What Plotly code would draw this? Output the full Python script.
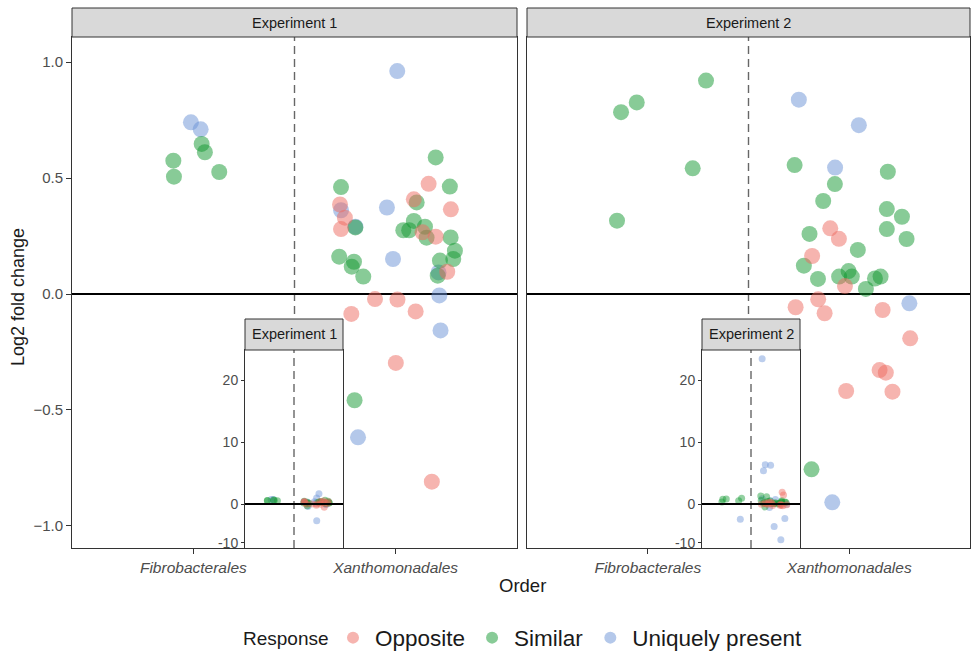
import plotly.graph_objects as go

# ---- data -------------------------------------------------------------
categories = ["Fibrobacterales", "Xanthomonadales"]
responses = ["Opposite", "Similar", "Uniquely present"]
experiments = ["Experiment 1", "Experiment 2"]
O, S, U = responses

# Experiment 1: order index (1/2), response, horizontal jitter, log2 fold change
exp1_order = [1] * 7 + [2] * 47
exp1_response = [U, U, S, S, S, S, S,
                 U, S, O, U, O, O, S, U, U, O, S, O, S, S, O, S, S, S, S, O,
                 S, O, S, S, S, S, U, S, S, S, U, S, O, S, U, O, O, O, O, U,
                 O, S, U, O, U, U]
exp1_jitter = [-0.012, 0.036, 0.041, 0.057, -0.099, -0.096, 0.128,
               0.008, -0.270, -0.275, -0.270, -0.251, -0.270, -0.199, -0.199, -0.043, 0.090,
               0.104, 0.163, 0.198, 0.268, 0.273, 0.038, 0.067, 0.090, 0.145, 0.133,
               0.153, 0.198, 0.272, 0.293, 0.285, 0.219, -0.013, -0.279, -0.206, -0.217,
               0.212, -0.160, 0.255, 0.208, 0.216, -0.102, 0.009, -0.219, 0.099, 0.222,
               0.001, -0.203, -0.186, 0.179, 0.06, 0.01]
exp1_lfc = [0.740, 0.710, 0.647, 0.611, 0.575, 0.506, 0.526,
            0.961, 0.461, 0.386, 0.361, 0.329, 0.280, 0.287, 0.290, 0.373, 0.408,
            0.395, 0.475, 0.589, 0.463, 0.365, 0.275, 0.275, 0.315, 0.290, 0.266,
            0.243, 0.247, 0.244, 0.187, 0.151, 0.144, 0.151, 0.161, 0.139, 0.118,
            0.093, 0.075, 0.096, 0.079, -0.006, -0.022, -0.024, -0.086, -0.075, -0.157,
            -0.297, -0.458, -0.618, -0.809, 1.67, -4.3]

# Experiment 2
exp2_order = [1] * 6 + [2] * 48
exp2_response = [S, S, S, S, S, U,
                 U, U, S, U, S, S, S, S, S, S, S, O, O, S, S, O, S, S, S, S,
                 S, O, S, S, S, O, U, O, O, O, O, O, O, O, O, S, U,
                 U, U, U, U, U, U, U, O, O, S, S]
exp2_jitter = [0.289, -0.055, -0.133, 0.223, -0.153, 0.26,
               -0.250, 0.048, -0.271, -0.070, 0.192, -0.071, -0.129, 0.187, 0.262, 0.187,
               0.285, -0.094, -0.051, -0.197, 0.043, -0.184, -0.225, -0.155, -0.050, -0.003,
               0.013, -0.021, 0.083, 0.128, 0.156, -0.154, 0.299, -0.266, -0.122, 0.166,
               0.303, 0.151, 0.182, -0.015, 0.215, -0.187, -0.084,
               -0.25, -0.18, -0.06, -0.22, 0.02, 0.26, 0.17, 0.20, 0.23, -0.28, -0.15]
exp2_lfc = [0.920, 0.826, 0.784, 0.542, 0.316, -3.9,
            0.838, 0.728, 0.556, 0.545, 0.527, 0.474, 0.401, 0.366, 0.333, 0.280,
            0.237, 0.283, 0.238, 0.259, 0.190, 0.164, 0.122, 0.065, 0.075, 0.099,
            0.075, 0.034, 0.022, 0.067, 0.075, -0.023, -0.040, -0.057, -0.083, -0.069,
            -0.191, -0.328, -0.339, -0.418, -0.421, -0.756, -0.898,
            23.5, 6.36, 6.26, 5.39, -5.8, -3.7, -9.2, 1.9, 1.45, 1.3, 1.18]

main_ticks = [-1.0, -0.5, 0.0, 0.5, 1.0]
inset_ticks = [-10, 0, 10, 20]

# ---- styling ----------------------------------------------------------
W, H = 972, 653
FONT = "Liberation Sans, Arial, sans-serif"
colors = {O: "rgb(238,106,96)", S: "rgb(18,152,48)", U: "rgb(106,146,214)"}
draw_order = [U, S, O]
NEG_SQUEEZE = 0.629  # negative side of the inset axis is compressed


def inset_scale(v):
    return v if v >= 0 else v * NEG_SQUEEZE


def px_x(p):
    return p / W


def px_y(p):
    return 1 - p / H


main_dom_y = [px_y(548), px_y(37)]
inset_dom_y = [px_y(548), px_y(350)]
panels = [
    dict(main_x=[px_x(72), px_x(517)], inset_x=[px_x(245), px_x(343)],
         order=exp1_order, resp=exp1_response, jit=exp1_jitter, lfc=exp1_lfc),
    dict(main_x=[px_x(527), px_x(970)], inset_x=[px_x(702), px_x(800)],
         order=exp2_order, resp=exp2_response, jit=exp2_jitter, lfc=exp2_lfc),
]

fig = go.Figure()
layout_axes = {}
shapes = []
annotations = []
DASH = "8px,5px"

for i, (exp, pn) in enumerate(zip(experiments, panels)):
    mx, my = f"x{2 * i + 1}", f"y{2 * i + 1}"
    ix, iy = f"x{2 * i + 2}", f"y{2 * i + 2}"
    mxa = "xaxis" if i == 0 else f"xaxis{2 * i + 1}"
    mya = "yaxis" if i == 0 else f"yaxis{2 * i + 1}"
    ixa, iya = f"xaxis{2 * i + 2}", f"yaxis{2 * i + 2}"
    mxr = "x" if i == 0 else mx
    myr = "y" if i == 0 else my

    for r in draw_order:
        idx = [k for k, rr in enumerate(pn["resp"]) if rr == r]
        xs = [pn["order"][k] + pn["jit"][k] for k in idx]
        ys = [pn["lfc"][k] for k in idx]
        fig.add_trace(go.Scatter(
            x=xs, y=ys, xaxis=mxr, yaxis=myr, mode="markers", name=r,
            legendgroup=r, showlegend=(i == 0),
            legendrank={O: 1, S: 2, U: 3}[r],
            marker=dict(size=16, color=colors[r], opacity=0.5, line=dict(width=0)),
            cliponaxis=True, hoverinfo="skip"))
        fig.add_trace(go.Scatter(
            x=xs, y=[inset_scale(v) for v in ys], xaxis=ix, yaxis=iy,
            mode="markers", name=r, legendgroup=r, showlegend=False,
            marker=dict(size=7, color=colors[r], opacity=0.45, line=dict(width=0)),
            hoverinfo="skip"))

    # main panel axes
    layout_axes[mxa] = dict(
        domain=pn["main_x"], range=[0.4, 2.6], tickvals=[1, 2],
        ticktext=[f"<i>{c}</i>" for c in categories], ticks="outside", ticklen=5,
        tickcolor="#333333", tickfont=dict(size=15.5, color="#4d4d4d", family=FONT),
        showline=True, linecolor="#333333", linewidth=1, mirror=True,
        showgrid=False, zeroline=False, anchor=myr, fixedrange=True)
    layout_axes[mya] = dict(
        domain=main_dom_y, range=[-1.095, 1.108], tickvals=main_ticks,
        tickformat=".1f", ticks="outside" if i == 0 else "", ticklen=5,
        showticklabels=(i == 0), tickcolor="#333333",
        tickfont=dict(size=15, color="#4d4d4d", family=FONT),
        showline=True, linecolor="#333333", linewidth=1, mirror=True,
        showgrid=False, zeroline=False, anchor=mxr, fixedrange=True)
    # inset axes
    layout_axes[ixa] = dict(
        domain=pn["inset_x"], range=[0.4, 2.6], showticklabels=False, ticks="",
        showline=True, linecolor="#333333", linewidth=1, mirror=True,
        showgrid=False, zeroline=False, anchor=iy, fixedrange=True)
    layout_axes[iya] = dict(
        domain=inset_dom_y, range=[-7.12, 24.92],
        tickvals=[inset_scale(t) for t in inset_ticks],
        ticktext=[str(t) for t in inset_ticks], ticks="outside", ticklen=3,
        tickcolor="#333333", tickfont=dict(size=14, color="#4d4d4d", family=FONT),
        showline=True, linecolor="#333333", linewidth=1, mirror=True,
        showgrid=False, zeroline=False, anchor=ix, fixedrange=True)

    # white backing for inset
    shapes.append(dict(type="rect", xref="paper", yref="paper",
                       x0=pn["inset_x"][0], x1=pn["inset_x"][1],
                       y0=inset_dom_y[0], y1=inset_dom_y[1],
                       fillcolor="white", line=dict(width=0), layer="below"))
    # reference lines: zero line and category divider
    shapes.append(dict(type="line", xref=mxr, yref=f"{myr} domain", x0=1.5, x1=1.5, y0=0, y1=1,
                       line=dict(color="#666666", width=1.4, dash=DASH), layer="below"))
    shapes.append(dict(type="line", xref=f"{mxr} domain", yref=myr, x0=0, x1=1, y0=0, y1=0,
                       line=dict(color="black", width=2), layer="below"))
    shapes.append(dict(type="line", xref=ix, yref=f"{iy} domain", x0=1.5, x1=1.5, y0=0, y1=1,
                       line=dict(color="#666666", width=1.4, dash=DASH), layer="above"))
    shapes.append(dict(type="line", xref=f"{ix} domain", yref=iy, x0=0, x1=1, y0=0, y1=0,
                       line=dict(color="black", width=2), layer="above"))

    # facet strips
    shapes.append(dict(type="rect", xref="paper", yref="paper",
                       x0=pn["main_x"][0], x1=pn["main_x"][1], y0=px_y(37), y1=px_y(8),
                       fillcolor="#d9d9d9", line=dict(color="#333333", width=1)))
    annotations.append(dict(text=exp, xref="paper", yref="paper",
                            x=sum(pn["main_x"]) / 2, y=px_y(22.5), showarrow=False,
                            font=dict(size=14.5, color="#1a1a1a", family=FONT),
                            xanchor="center", yanchor="middle"))
    shapes.append(dict(type="rect", xref="paper", yref="paper",
                       x0=pn["inset_x"][0], x1=pn["inset_x"][1], y0=px_y(350), y1=px_y(319),
                       fillcolor="#d9d9d9", line=dict(color="#333333", width=1)))
    annotations.append(dict(text=exp, xref="paper", yref="paper",
                            x=sum(pn["inset_x"]) / 2, y=px_y(334.5), showarrow=False,
                            font=dict(size=14.5, color="#1a1a1a", family=FONT),
                            xanchor="center", yanchor="middle"))

annotations.append(dict(text="Log2 fold change", xref="paper", yref="paper",
                        x=px_x(18), y=px_y(297), textangle=-90, showarrow=False,
                        font=dict(size=18, color="#1a1a1a", family=FONT),
                        xanchor="center", yanchor="middle"))
annotations.append(dict(text="Order", xref="paper", yref="paper",
                        x=px_x(522), y=px_y(585), showarrow=False,
                        font=dict(size=18.5, color="#1a1a1a", family=FONT),
                        xanchor="center", yanchor="middle"))
annotations.append(dict(text="Response", xref="paper", yref="paper",
                        x=px_x(241), y=px_y(638), showarrow=False,
                        font=dict(size=19, color="#1a1a1a", family=FONT),
                        xanchor="left", yanchor="middle"))

fig.update_layout(
    width=W, height=H, margin=dict(l=0, r=0, t=0, b=0, autoexpand=False),
    paper_bgcolor="white", plot_bgcolor="white",
    font=dict(family=FONT, color="#1a1a1a"),
    shapes=shapes, annotations=annotations,
    legend=dict(orientation="h", x=px_x(331), xanchor="left", y=px_y(638),
                yanchor="middle", itemwidth=34,
                font=dict(size=22.5, family=FONT, color="#1a1a1a"),
                itemsizing="constant", traceorder="normal", bgcolor="rgba(0,0,0,0)"),
    **layout_axes,
)

fig.write_html("out.html", config={"displayModeBar": False})
